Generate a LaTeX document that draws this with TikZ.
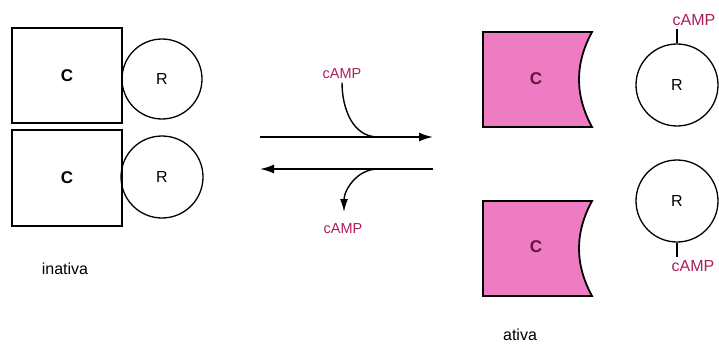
\documentclass[tikz,border=0pt]{standalone}
\usepackage{fontspec}
\setmainfont{Liberation Sans}
\usepackage{xcolor}
\usepackage{tikz}
\usetikzlibrary{shapes,arrows.meta,positioning,calc}

\definecolor{pinkC}{RGB}{238,124,194}
\definecolor{campred}{RGB}{172,30,92}
\definecolor{cdark}{RGB}{104,18,60}

\tikzset{
  sub/.style={draw, rectangle, line width=2.2pt, minimum width=110pt, minimum height=95pt, font=\bfseries\fontsize{17}{17}\selectfont},
  reg/.style={draw, circle, line width=1.3pt, inner sep=0pt, font=\fontsize{16}{16}\selectfont},
  camp/.style={text=campred, font=\fontsize{14.5}{15}\selectfont},
  react/.style={line width=1.8pt, -{Latex[length=14pt,width=9pt]}}
}

\begin{document}
\begin{tikzpicture}[x=1pt, y=-1pt, node distance=95pt]
\useasboundingbox (0,0) rectangle (719,345);
% inativa
\node[sub] (c1) at (67,75.5) {C};
\node[reg, minimum size=80pt] (r1) at (162,79) {R};
\node[sub, minimum height=96pt] (c2) at (67,178) {C};
\node[reg, minimum size=82pt] (r2) at (162,177) {R};
\node[font=\fontsize{16}{16}\selectfont] (ina) at (65,269) {inativa};
% reaction
\coordinate (f1) at (260,137);
\coordinate (f2) at (433,137);
\coordinate (b1) at (433,169);
\coordinate (b2) at (260,169);
\draw[react] (f1) -- (f2);
\draw[react] (b1) -- (b2);
\node[camp] (cin) at (342,74) {cAMP};
\coordinate (j1) at (378,137);
\draw[line width=1.4pt] (cin.south) to[out=-90, in=180] (j1);
\coordinate (j2) at (378,169);
\coordinate (tip) at (344,212);
\draw[line width=1.4pt, -{Latex[length=13pt,width=8pt]}] (j2) to[out=180, in=90] (tip);
\node[camp] (cout) at (343,229) {cAMP};
% ativa
\filldraw[fill=pinkC, line width=1.8pt] (483,32) -- (592,32)
  .. controls (574.7,63.7) and (574.7,95.3) .. (592,127) -- (483,127) -- cycle;
\filldraw[fill=pinkC, line width=1.8pt] (483,201) -- (592,201)
  .. controls (574.7,232.7) and (574.7,264.3) .. (592,296) -- (483,296) -- cycle;
\node[text=cdark, font=\bfseries\fontsize{17}{17}\selectfont] (ca1) at (536,79) {C};
\node[text=cdark, font=\bfseries\fontsize{17}{17}\selectfont] (ca2) at (536,247) {C};
\node[reg, minimum size=82pt] (r3) at (677,85) {R};
\node[reg, minimum size=82pt] (r4) at (677,201) {R};
\node[camp, font=\fontsize{16}{16}\selectfont] (ct) at (694,20) {cAMP};
\node[camp, font=\fontsize{16}{16}\selectfont] (cb) at (693,266) {cAMP};
\draw[line width=1.3pt] (r3.north) -- (r3.north |- ct.south);
\draw[line width=1.3pt] (r4.south) -- (r4.south |- cb.north);
\node[font=\fontsize{16}{16}\selectfont] (at) at (520,335) {ativa};
\end{tikzpicture}
\end{document}
